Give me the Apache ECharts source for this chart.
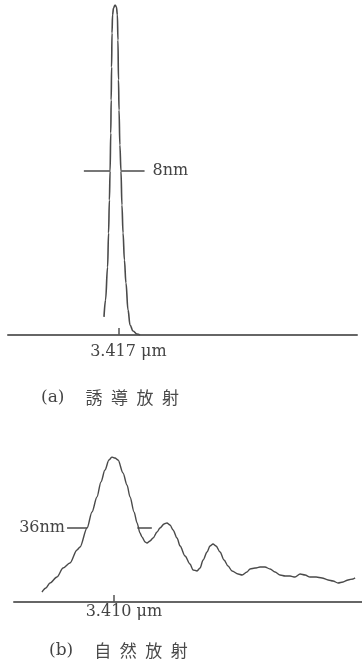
<!DOCTYPE html>
<html><head><meta charset="utf-8">
<script src="https://cdn.jsdelivr.net/npm/echarts@6/dist/echarts.min.js"></script>
<style>html,body{margin:0;padding:0;background:#fff}#c{width:362px;height:661px}</style>
</head><body><div id="c"></div>
<script>
// ---- Panel (a): stimulated emission (wavelength in nm, relative intensity) ----
const wavelengthA = [3406.6, 3407.7, 3409.2, 3409.9, 3410.5, 3411.0, 3411.5, 3411.8, 3412.1, 3412.4, 3412.8, 3413.5, 3414.6, 3415.6, 3416.3, 3416.7, 3417.1, 3417.5, 3418.1, 3418.9, 3419.6, 3420.4, 3421.4, 3422.5, 3424.0, 3425.5, 3427.6, 3430.5, 3432.7];
const intensityA  = [0.055, 0.106, 0.206, 0.309, 0.409, 0.497, 0.612, 0.712, 0.812, 0.915, 0.970, 0.991, 1.0, 0.994, 0.970, 0.894, 0.773, 0.682, 0.576, 0.497, 0.394, 0.309, 0.227, 0.158, 0.076, 0.030, 0.012, 0.003, 0.0];
const fwhmLevelA = 0.497;
const fwhmLeftA  = [3392, 3411];
const fwhmRightA = [3419, 3436];
const fwhmTextA  = '8nm';
const tickValueA = 3417;
const tickLabelA = '3.417 μm';
const captionTagA = '(a)';
const captionA = '誘\u2002導\u2002放\u2002射';

// ---- Panel (b): spontaneous emission ----
const wavelengthB = [3357.8, 3360.7, 3363.6, 3368.7, 3373.1, 3378.1, 3383.2, 3385.4, 3390.5, 3394.1, 3397.7, 3400.6, 3403.5, 3406.4, 3408.6, 3410.8, 3413.0, 3416.6, 3419.5, 3421.7, 3424.6, 3426.8, 3428.9, 3430.4, 3432.6, 3434.0, 3436.2, 3438.4, 3441.3, 3443.4, 3446.4, 3448.5, 3450.7, 3452.9, 3455.8, 3458.0, 3461.6, 3465.2, 3467.4, 3470.3, 3472.5, 3474.7, 3477.6, 3479.7, 3481.9, 3484.1, 3487.0, 3489.9, 3492.8, 3495.7, 3500.1, 3503.0, 3506.6, 3508.8, 3512.4, 3516.0, 3519.6, 3523.3, 3526.9, 3530.5, 3534.2, 3537.8, 3541.4, 3545.1, 3548.7, 3552.3, 3556.7, 3561.0, 3565.4, 3569.0, 3572.6, 3576.3, 3579.9, 3583.5, 3585.0];
const intensityB  = [0.069, 0.097, 0.131, 0.172, 0.234, 0.269, 0.359, 0.379, 0.510, 0.621, 0.724, 0.828, 0.910, 0.979, 1.0, 0.993, 0.979, 0.890, 0.807, 0.724, 0.621, 0.545, 0.476, 0.448, 0.414, 0.407, 0.421, 0.441, 0.483, 0.510, 0.538, 0.545, 0.531, 0.497, 0.441, 0.386, 0.317, 0.262, 0.221, 0.214, 0.234, 0.290, 0.345, 0.386, 0.400, 0.386, 0.345, 0.290, 0.248, 0.214, 0.193, 0.186, 0.207, 0.228, 0.234, 0.241, 0.241, 0.228, 0.207, 0.186, 0.179, 0.179, 0.172, 0.193, 0.186, 0.172, 0.172, 0.166, 0.152, 0.145, 0.131, 0.138, 0.152, 0.159, 0.166];
const fwhmLevelB = 0.510;
const fwhmLeftB  = [3376, 3390.5];
const fwhmRightB = [3427, 3437.5];
const fwhmTextB  = '36nm';
const tickValueB = 3410;
const tickLabelB = '3.410 μm';
const captionTagB = '(b)';
const captionB = '自\u2002然\u2002放\u2002射';

// ---- styling ----
const ink = '#4a4a4a';
const textInk = '#444';
const serif = 'DejaVu Serif';
const cjk = 'Noto Sans CJK JP';

function pairs(xs, ys) { return xs.map((x, i) => [x, ys[i]]); }
function dash(xs, level, labelIdx, text, pos, dist) {
  return xs.map((x, i) => {
    const item = { value: [x, level] };
    if (i === labelIdx) {
      item.label = { show: true, position: pos, distance: dist, formatter: text,
        fontFamily: serif, fontSize: 16, color: textInk };
    }
    return item;
  });
}
function xAxisCfg(grid, min, max, tickVal, tickLabel, margin) {
  return {
    gridIndex: grid, type: 'value', min: min, max: max,
    axisLine: { show: true, onZero: false, lineStyle: { color: '#666', width: 2 } },
    axisTick: { show: true, inside: true, length: 7, customValues: [tickVal], lineStyle: { color: '#555', width: 1.5 } },
    axisLabel: { show: true, customValues: [tickVal], formatter: () => tickLabel, margin: margin,
      fontFamily: serif, fontSize: 16, color: textInk, padding: [0, 0, 0, 20] },
    splitLine: { show: false }
  };
}
function caption(left, top, tag, txt) {
  return {
    left: left, top: top,
    text: '{p|' + tag + '}{c|' + txt + '}',
    textStyle: { fontWeight: 'normal', rich: {
      p: { fontFamily: serif, fontSize: 17, fontWeight: 'normal', color: textInk },
      c: { fontFamily: cjk, fontSize: 17, fontWeight: 'normal', color: '#4a4a4a', padding: [0, 0, 0, 21] }
    } }
  };
}
const lineSeries = (grid, data, smooth, width) => ({
  type: 'line', xAxisIndex: grid, yAxisIndex: grid, data: data,
  symbol: 'none', smooth: smooth, smoothMonotone: 'x', lineStyle: { color: ink, width: width }, silent: true
});
const dashSeries = (grid, data) => ({
  type: 'line', xAxisIndex: grid, yAxisIndex: grid, data: data,
  symbol: 'circle', symbolSize: 0.1, showSymbol: true,
  itemStyle: { color: ink }, lineStyle: { color: ink, width: 1.5 }, silent: true
});

const chart = echarts.init(document.getElementById('c'), null, { renderer: 'canvas' });
chart.setOption({
  animation: false,
  backgroundColor: '#fff',
  title: [caption(36, 384, captionTagA, captionA), caption(44, 637, captionTagB, captionB)],
  grid: [
    { left: 8, right: 5, top: 5, bottom: 326 },
    { left: 14, right: 0, top: 457, bottom: 59 }
  ],
  xAxis: [
    xAxisCfg(0, 3337, 3590, tickValueA, tickLabelA, 9),
    xAxisCfg(1, 3337.5, 3590, tickValueB, tickLabelB, 2)
  ],
  yAxis: [
    { gridIndex: 0, type: 'value', min: 0, max: 1, show: false },
    { gridIndex: 1, type: 'value', min: 0, max: 1, show: false }
  ],
  series: [
    lineSeries(0, pairs(wavelengthA, intensityA), 0.4, 1.6),
    dashSeries(0, dash(fwhmLeftA, fwhmLevelA, -1, '', 'left', 0)),
    dashSeries(0, dash(fwhmRightA, fwhmLevelA, 1, fwhmTextA, 'right', 8)),
    lineSeries(1, pairs(wavelengthB, intensityB), 0.3, 1.4),
    dashSeries(1, dash(fwhmLeftB, fwhmLevelB, 0, fwhmTextB, 'left', 2)),
    dashSeries(1, dash(fwhmRightB, fwhmLevelB, -1, '', 'right', 0))
  ]
});
</script></body></html>
